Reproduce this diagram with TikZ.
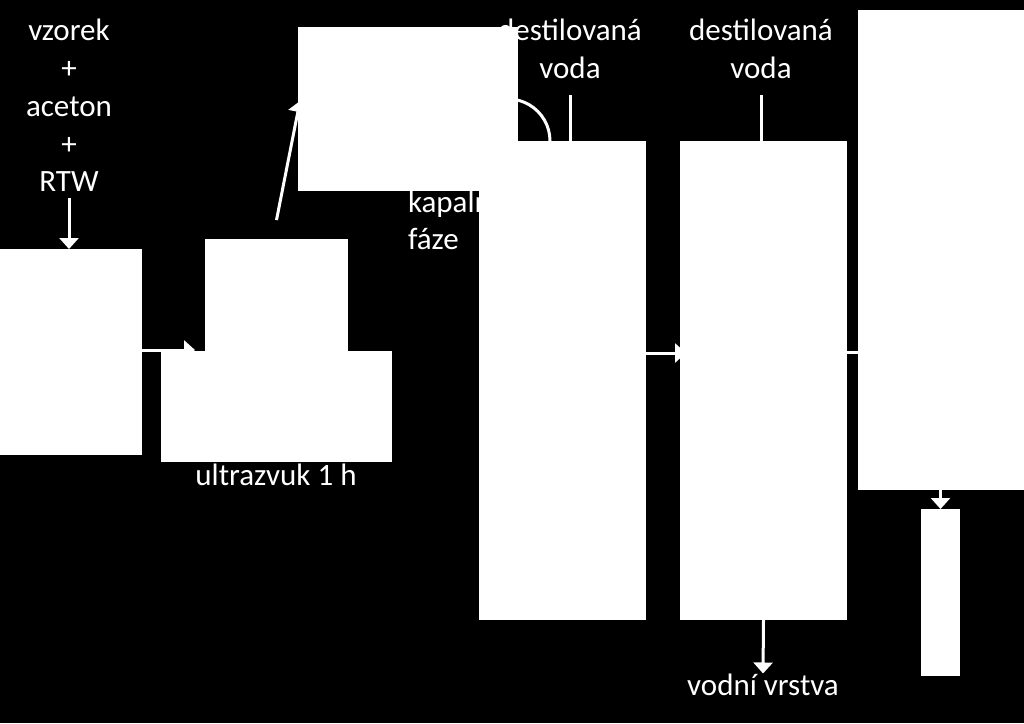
\documentclass[tikz,border=0pt]{standalone}
\usepackage{fontspec}
\setmainfont{Carlito}
\usetikzlibrary{arrows.meta,calc}
\pgfdeclarelayer{back}
\pgfdeclarelayer{bg}
\pgfsetlayers{back,bg,main}
\tikzset{
  img/.style={fill=white, draw=none, inner sep=0pt, outer sep=0pt, anchor=north west},
  txt/.style={text=white, inner sep=0pt, outer sep=0pt, anchor=base, font=\fontsize{31}{38}\selectfont},
  line/.style={draw=white, line width=3pt},
  arr/.style={draw=white, line width=3pt, -{Triangle[width=19pt,length=11pt]}},
}
\begin{document}
\begin{tikzpicture}[x=1pt,y=-1pt]
\useasboundingbox (0,0) rectangle (1024,723);
% image placeholders (white blocks)
\node[img, minimum width=142pt, minimum height=206pt] (r1) at (0,249) {};
\node[img, minimum width=143pt, minimum height=113pt] (r2) at (205,239) {};
\node[img, minimum width=231pt, minimum height=111pt] (r3) at (161,351) {};
\node[img, minimum width=220pt, minimum height=164pt] (r4) at (298,27) {};
\node[img, minimum width=167pt, minimum height=479pt] (r5) at (479,141) {};
\node[img, minimum width=167pt, minimum height=479pt] (r6) at (680,141) {};
\node[img, minimum width=166pt, minimum height=480pt] (r7) at (858,10) {};
\node[img, minimum width=39pt, minimum height=167pt] (r8) at (921,509) {};
\begin{pgfonlayer}{back}
\fill[black] (0,0) rectangle (1024,723);
\end{pgfonlayer}
\begin{pgfonlayer}{bg}
% texts
\node[txt] (l1) at (69,40) {vzorek};
\node[txt] (l2) at (69,78) {+};
\node[txt] (l3) at (69,116) {aceton};
\node[txt] (l4) at (69,154) {+};
\node[txt] (l5) at (69,191) {RTW};
\node[txt] (d1) at (570,40) {destilovaná};
\node[txt] (d2) at (570,78) {voda};
\node[txt] (e1) at (761,40) {destilovaná};
\node[txt] (e2) at (761,78) {voda};
\node[txt, anchor=base west] (k1) at (408,212) {kapalná};
\node[txt, anchor=base west] (k2) at (408,249) {fáze};
\node[txt] (u) at (276,485) {ultrazvuk 1 h};
\node[txt] (vod) at (763,695) {vodní vrstva};
% connectors
\draw[arr] ($(l5.south)+(0,7)$) -- (l5.south |- r1.north);
\draw[arr] (r1.east |- 0,350) -- ($(r2.west |- 0,350)+(-10,0)$);
\draw[arr] ($(r2.north)+(0,-19)$) -- ($(r4.west)+(2,-8)$);
\draw[line] ($(r5.north west)+(71,0)$) arc[start angle=0, end angle=-115, radius=42];
\draw[line] ($(d2.south)+(0,17)$) -- ($(d2.south |- r5.north)+(0,6)$);
\draw[line] ($(e2.south)+(0,17)$) -- ($(e2.south |- r6.north)+(0,6)$);
\draw[arr] (r5.east |- 0,353) -- ($(r6.west |- 0,353)+(6,0)$);
\draw[arr] (r6.east |- 0,352) -- ($(r7.west |- 0,352)+(12,0)$);
\draw[arr] (r8.north |- r7.south) -- (r8.north);
\draw[arr] (r6.south) -- (vod.north);
\end{pgfonlayer}
\end{tikzpicture}
\end{document}
